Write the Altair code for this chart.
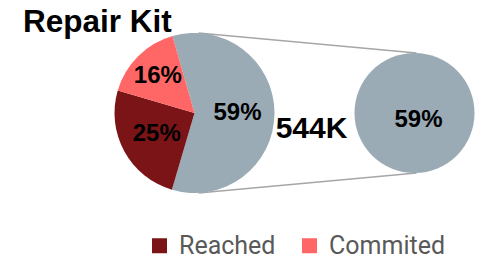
import math
import altair as alt
import pandas as pd

# ---- data ----
title_text = "Repair Kit"
categories = ["Remaining", "Reached", "Commited"]
shares = [59, 25, 16]
labels = ["59%", "25%", "16%"]
total_label = ["544K"]
legend_values = ["Reached", "Commited"]
colors = ["#9aabb5", "#7b1416", "#ff6666"]

df = pd.DataFrame({
    "category": categories,
    "share": shares,
    "label": labels,
    "idx": list(range(len(categories))),
})

# ---- layout ----
CX, CY, R = 186.5, 105, 80       # pie centre / radius
ZX, ZY, ZR = 406.5, 105, 60      # zoom circle centre / radius
start = math.radians(344)
theta_scale = alt.Scale(range=[start, start + 2 * math.pi])
color_scale = alt.Scale(domain=categories, range=colors)
FONT = "Liberation Sans"
LBL = 24

base = alt.Chart(df)

pie = base.mark_arc(radius=R, stroke=None).encode(
    theta=alt.Theta("share:Q", stack=True, scale=theta_scale),
    order=alt.Order("idx:Q"),
    color=alt.Color(
        "category:N", scale=color_scale,
        legend=alt.Legend(
            values=legend_values, orient="none", legendX=139, legendY=225,
            direction="horizontal", title=None, symbolType="square",
            symbolSize=225, symbolStrokeWidth=0, symbolOpacity=1,
            labelFont="Roboto", labelFontSize=25, labelColor="#595959",
            labelOffset=7, columnPadding=21, padding=0,
        ),
    ),
    x=alt.value(CX), y=alt.value(CY),
)

labels_main = base.mark_text(font=FONT, fontWeight="bold", fontSize=LBL, color="black").encode(
    theta=alt.Theta("share:Q", stack=True),
    order=alt.Order("idx:Q"),
    text="label:N",
    radius=alt.value(43),
    opacity=alt.condition("datum.category == 'Commited'", alt.value(0), alt.value(1)),
    x=alt.value(CX), y=alt.value(CY),
)
labels_small = base.mark_text(font=FONT, fontWeight="bold", fontSize=LBL, color="black").encode(
    theta=alt.Theta("share:Q", stack=True),
    order=alt.Order("idx:Q"),
    text="label:N",
    radius=alt.value(52),
    opacity=alt.condition("datum.category == 'Commited'", alt.value(1), alt.value(0)),
    x=alt.value(CX), y=alt.value(CY),
)

line_top = base.transform_filter("datum.idx == 0").mark_rule(color="#a6a6a6", strokeWidth=1.5).encode(
    x=alt.value(CX + 4), y=alt.value(CY - R), x2=alt.value(ZX + 2), y2=alt.value(ZY - ZR)
)
line_bot = base.transform_filter("datum.idx == 0").mark_rule(color="#a6a6a6", strokeWidth=1.5).encode(
    x=alt.value(CX + 4), y=alt.value(CY + R), x2=alt.value(ZX + 2), y2=alt.value(ZY + ZR)
)

zoom = base.transform_filter("datum.idx == 0").mark_arc(
    radius=ZR, theta=0, theta2=2 * math.pi, fill=colors[0], stroke=None
).encode(x=alt.value(ZX), y=alt.value(ZY))

zoom_label = base.transform_filter("datum.idx == 0").mark_text(
    font=FONT, fontWeight="bold", fontSize=LBL, color="black", baseline="alphabetic", align="center"
).encode(text="label:N", x=alt.value(ZX + 4), y=alt.value(119))

total = alt.Chart(pd.DataFrame({"t": total_label})).mark_text(
    font=FONT, fontWeight="bold", fontSize=30, color="black", baseline="alphabetic", align="center"
).encode(text="t:N", x=alt.value(303.5), y=alt.value(130))

title = alt.Chart(pd.DataFrame({"t": [title_text]})).mark_text(
    font=FONT, fontWeight="bold", fontSize=31.5, color="black", baseline="alphabetic", align="left"
).encode(text="t:N", x=alt.value(15), y=alt.value(24))

chart = alt.layer(
    line_top, line_bot, pie, labels_main, labels_small, zoom, zoom_label, total, title
).properties(
    width=468, height=246, autosize=alt.AutoSizeParams(type="none"), padding=0
).configure_view(stroke=None)

chart.save("out.html", embed_options={"renderer": "svg", "actions": False})
